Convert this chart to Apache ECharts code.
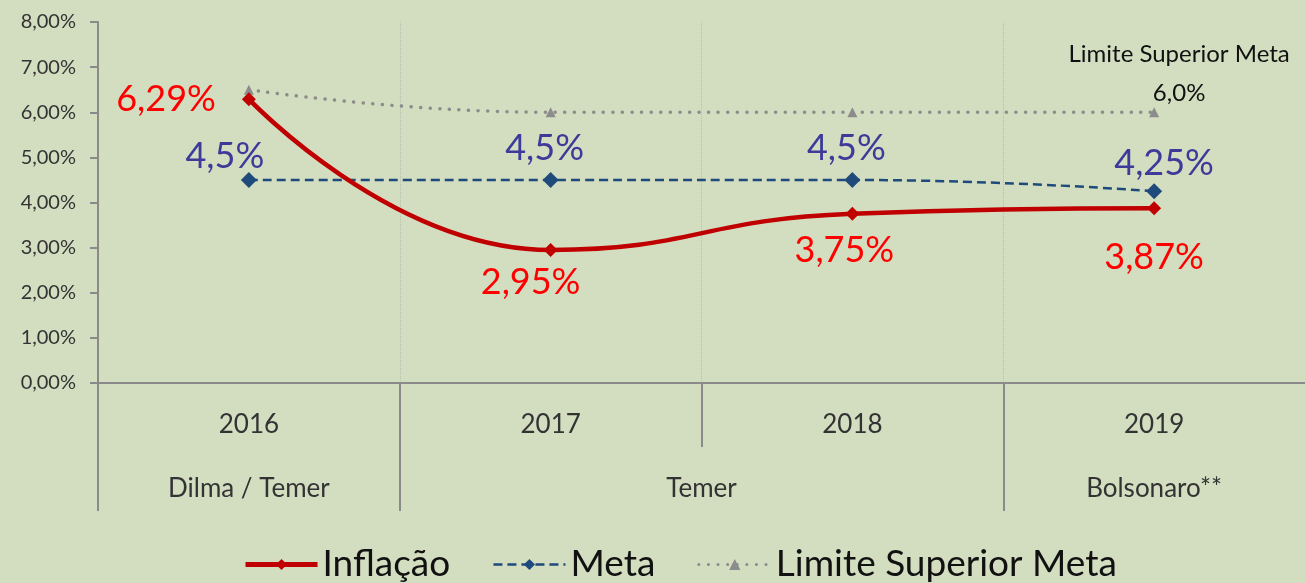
<!DOCTYPE html>
<html><head><meta charset="utf-8">
<script src="https://cdn.jsdelivr.net/npm/echarts@6/dist/echarts.min.js"></script>
<style>html,body{margin:0;padding:0;background:#d3ddc0}#c{width:1305px;height:583px}</style>
</head><body><div id="c"></div>
<script>
const years = ['2016','2017','2018','2019'];
const governos = ['Dilma / Temer','Temer','Bolsonaro**'];
const inflacao = [6.29, 2.95, 3.75, 3.87];
const meta = [4.5, 4.5, 4.5, 4.25];
const limite = [6.5, 6.0, 6.0, 6.0];
const inflacaoLabels = ['6,29%','2,95%','3,75%','3,87%'];
const metaLabels = ['4,5%','4,5%','4,5%','4,25%'];

const FONT = 'Lato, "Noto Sans", sans-serif';
const infLabelPos = [
  {position:'left', distance:26, offset:[0,0]},
  {position:'bottom', distance:8, offset:[-20,0]},
  {position:'bottom', distance:12, offset:[-8,0]},
  {position:'bottom', distance:24, offset:[0,0]}
];
const metaLabelPos = [
  {position:'top', distance:-2, offset:[-24,0]},
  {position:'top', distance:6, offset:[-6,0]},
  {position:'top', distance:6, offset:[-6,0]},
  {position:'top', distance:2, offset:[10,0]}
];
const tickStyle = {color:'#8a8a8a', width:2};

const chart = echarts.init(document.getElementById('c'));
chart.setOption({
  backgroundColor:'#d3ddc0',
  animation:false,
  textStyle:{fontFamily:FONT},
  grid:{left:98, right:0, top:22, bottom:200, containLabel:false},
  legend:{
    bottom:-5, left:238,
    itemWidth:72, itemHeight:14, itemGap:42,
    textStyle:{fontSize:37, color:'#111', fontFamily:FONT},
    data:[
      {name:'Inflação', lineStyle:{width:5}},
      {name:'Meta', lineStyle:{width:2.5}},
      {name:'Limite Superior Meta', lineStyle:{width:3}}
    ]
  },
  xAxis:[{
    type:'category', data:years, boundaryGap:true,
    axisLine:{lineStyle:tickStyle},
    axisTick:{show:false},
    axisLabel:{fontSize:26, color:'#333', margin:29, fontFamily:FONT},
    splitLine:{show:true, interval:0, lineStyle:{color:'#b8bfae', type:'dotted', width:1}}
  },{
    type:'value', min:0, max:4, position:'bottom', offset:64,
    axisLine:{show:false},
    axisTick:{show:true, length:64, customValues:[0,1,3], lineStyle:tickStyle},
    axisLabel:{show:true, customValues:[0.5,2,3.5], fontSize:26, color:'#333', margin:29, fontFamily:FONT,
      formatter:function(v){ if(v<1) return governos[0]; if(v<3) return governos[1]; return governos[2]; }},
    splitLine:{show:false}
  },{
    type:'value', min:0, max:4, position:'bottom', offset:0,
    axisLine:{show:false},
    axisTick:{show:true, length:64, customValues:[0,1,2,3], lineStyle:tickStyle},
    axisLabel:{show:false},
    splitLine:{show:false}
  }],
  yAxis:{
    type:'value', min:0, max:8, interval:1,
    axisLine:{show:true, lineStyle:tickStyle},
    axisTick:{show:true, length:8, lineStyle:tickStyle},
    axisLabel:{fontSize:20, color:'#333', margin:22, fontFamily:FONT,
      formatter:function(v){return v.toFixed(2).replace('.',',')+'%';}},
    splitLine:{show:false}
  },
  series:[{
    name:'Limite Superior Meta', type:'line', xAxisIndex:0, smooth:0.5,
    data:limite.map(function(v,i){
      return {value:v, label:{show:i===limite.length-1, position:'top', distance:-6, offset:[25,0],
        formatter:'Limite Superior Meta\n'+String(v.toFixed(1)).replace('.',',')+'%',
        fontSize:24, lineHeight:39, color:'#111', fontFamily:FONT}};
    }),
    symbol:'triangle', symbolSize:10,
    lineStyle:{color:'#8c8c8c', width:3.5, type:[0.1,9.5], cap:'round'},
    itemStyle:{color:'#8c8c8c'}, z:2
  },{
    name:'Meta', type:'line', xAxisIndex:0, smooth:0.5,
    data:meta.map(function(v,i){
      return {value:v, label:Object.assign({show:true, formatter:metaLabels[i], fontSize:36, color:'#3d3a9a', fontFamily:FONT}, metaLabelPos[i])};
    }),
    symbol:'diamond', symbolSize:16,
    lineStyle:{color:'#1f4a7c', width:2.5, type:[9,5]},
    itemStyle:{color:'#1f4a7c'}, z:3
  },{
    name:'Inflação', type:'line', xAxisIndex:0, smooth:0.5,
    data:inflacao.map(function(v,i){
      return {value:v, label:Object.assign({show:true, formatter:inflacaoLabels[i], fontSize:36, color:'#ff0000', fontFamily:FONT}, infLabelPos[i])};
    }),
    symbol:'diamond', symbolSize:14,
    lineStyle:{color:'#c00000', width:4.5},
    itemStyle:{color:'#c00000'}, z:4
  }]
});
</script></body></html>
